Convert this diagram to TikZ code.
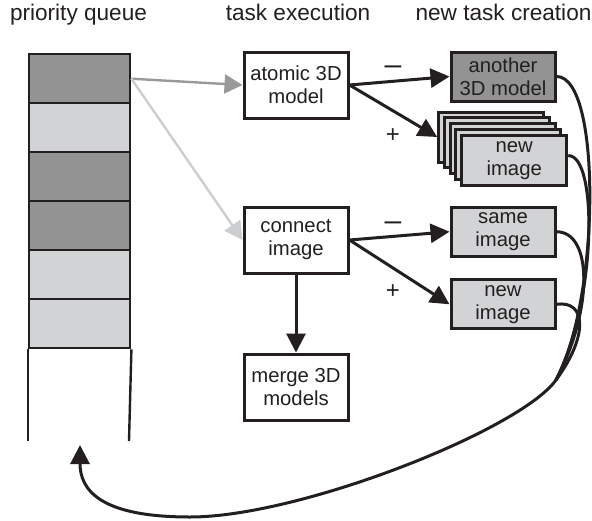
\documentclass[tikz,border=0pt]{standalone}
\usepackage{fontspec}
\setmainfont{Liberation Sans}
\usetikzlibrary{arrows.meta}
\definecolor{ink}{HTML}{231F20}
\definecolor{darkcell}{HTML}{939393}
\definecolor{lightcell}{HTML}{D2D3D5}
\definecolor{garrow}{HTML}{999999}
\definecolor{larrow}{HTML}{CDCED0}
\begin{document}
\begin{tikzpicture}[x=1pt,y=-1pt,
  head/.style={font=\fontsize{22.6}{26}\selectfont, text=ink, anchor=base, inner sep=0pt},
  qcell/.style={draw=ink, line width=2.4pt, minimum width=101pt, minimum height=49pt, inner sep=0pt, anchor=north west},
  qline/.style={draw=ink, line width=2.4pt},
  task/.style={draw=ink, line width=3pt, fill=white, minimum width=104pt, minimum height=66pt, inner sep=0pt, align=center, font=\fontsize{20.3}{23}\selectfont, text=ink},
  newtask/.style={task, minimum height=49pt, fill=lightcell},
  stackbox/.style={newtask, minimum width=105pt, minimum height=50pt},
  flow/.style={draw=ink, line width=3pt, -{Triangle[length=19pt,width=19pt]}},
  curve/.style={draw=ink, line width=3pt},
  garr/.style={draw=garrow, line width=2.4pt, -{Triangle[length=18pt,width=19pt]}},
  larr/.style={draw=larrow, line width=2.4pt, -{Triangle[length=18pt,width=19pt]}},
  sign/.style={text=ink, anchor=base, inner sep=0pt},
]
\useasboundingbox (0,0) rectangle (592,520);

% headings
\node[head] (h1) at (78.5,20.5) {priority queue};
\node[head] (h2) at (298,20.5) {task execution};
\node[head] (h3) at (503.5,20.5) {new task creation};

% queue
\node[qcell, fill=darkcell] (c1) at (28,53) {};
\node[qcell, fill=lightcell] (c2) at (28,102) {};
\node[qcell, fill=darkcell] (c3) at (28,151) {};
\node[qcell, fill=darkcell] (c4) at (28,200) {};
\node[qcell, fill=lightcell] (c5) at (28,249) {};
\node[qcell, fill=lightcell] (c6) at (28,298) {};
\coordinate (qbl) at (28,441);
\coordinate (qbr) at (129,441);
\draw[qline] (c6.south west) -- (qbl);
\draw[qline] (c6.south east) -- (qbr);

% task execution
\node[task] (atomic) at (296,85) {atomic 3D\\model};
\node[task] (connect) at (296,240) {connect\\image};
\node[task] (merge) at (296,387) {merge 3D\\models};

% new task creation
\node[newtask, fill=darkcell] (another) at (503,76.5) {another\\3D model};
\node[stackbox] (s0) at (491.2,137) {};
\node[stackbox] (s1) at (496.95,142.9) {};
\node[stackbox] (s2) at (502.7,148.8) {};
\node[stackbox] (s3) at (508.45,154.7) {};
\node[stackbox] (front) at (514.2,160.6) {new\\image};
\node[newtask] (same) at (503,231.7) {same\\image};
\node[newtask] (newimg) at (503,304.3) {new\\image};

% gray arrows from queue
\draw[garr] (c1.east) -- (atomic.west);
\draw[larr] (c1.east) -- (connect.west);

% black arrows
\draw[flow] (atomic.east) -- (another.west);
\draw[flow] (atomic.east) -- (s0.west);
\draw[flow] (connect.east) -- (same.west);
\draw[flow] (connect.east) -- (newimg.west);
\draw[flow] (connect.south) -- (merge.north);

% signs
\node[sign, font=\fontsize{30}{30}\selectfont] (m1) at (393,74.5) {–};
\node[sign, font=\fontsize{24}{24}\selectfont] (p1) at (393,142) {+};
\node[sign, font=\fontsize{30}{30}\selectfont] (m2) at (393,230.5) {–};
\node[sign, font=\fontsize{24}{24}\selectfont] (p2) at (393,298) {+};

% return curves
\coordinate (M) at (556,380);
\coordinate (T) at (80,445);
\draw[curve] (another.east) .. controls (602,76) and (600,300) .. (M);
\draw[curve] ([yshift=5pt]front.east) .. controls (598,155) and (597,300) .. (M);
\draw[curve] (same.east) .. controls (593,232) and (593,310) .. (M);
\draw[curve] (newimg.east) .. controls (586,300) and (589,335) .. (M);
\draw[flow] (M) .. controls (520,430) and (300,517) .. (190,517) .. controls (100,517) and (80,490) .. (T);
\end{tikzpicture}
\end{document}
